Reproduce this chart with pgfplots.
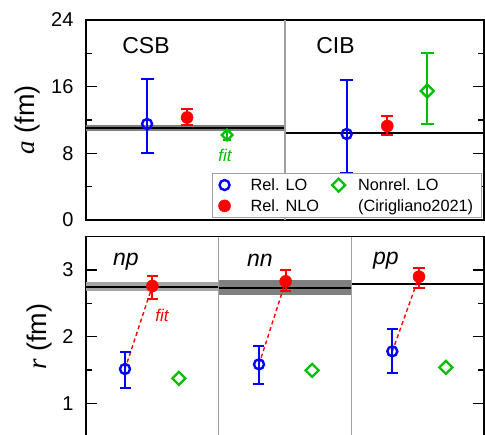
\documentclass[border=0pt]{standalone}
\usepackage{fontspec}
\setmainfont{Liberation Sans}
\newfontfamily\seriffont{Liberation Serif}
\usepackage{pgfplots}
\pgfplotsset{compat=1.18}
\definecolor{cblue}{RGB}{0,0,255}
\definecolor{cred}{RGB}{255,0,0}
\definecolor{cgreen}{RGB}{0,190,0}
\definecolor{divgray}{RGB}{160,160,160}
\definecolor{banddark}{RGB}{128,128,128}
\definecolor{bandlight}{RGB}{165,165,165}
\begin{document}
\begin{tikzpicture}
\path[use as bounding box] (0pt,0pt) rectangle (485pt,435pt);
\pgfplotsset{
  panel/.style={
    scale only axis, width=398pt, height=200pt,
    axis line style={line width=1.6pt},
    every tick/.style={line width=1.4pt, black},
    major tick length=11pt, minor tick length=6pt,
    tick align=inside,
    ytick pos=both,
    xtick=\empty,
    /pgf/number format/assume math mode=true,
    yticklabel style={font=\fontsize{20}{24}\selectfont, xshift=-9pt},
    clip=false,
  },
  eb/.style={error bars/.cd, y dir=both, y explicit,
    error bar style={line width=1.7pt},
    error mark options={rotate=90, mark size=#1, line width=1.7pt}},
  blueo/.style={cblue, only marks, mark=o, mark size=5pt, line width=2.4pt,
    mark options={fill=white, line width=2.4pt}},
  redf/.style={cred, only marks, mark=*, mark size=6pt, line width=0.5pt},
  greend/.style={cgreen, only marks, mark=square, mark size=4.6pt, line width=2.3pt,
    mark options={rotate=45, fill=white, line width=2.3pt}},
}
% ---------------- top panel ----------------
\begin{axis}[panel, at={(86pt,215pt)}, anchor=south west,
  xmin=0, xmax=2, ymin=0, ymax=24,
  ytick={0,8,16,24}, minor ytick={4,12,20},
  ylabel={{\seriffont\itshape a} (fm)},
  ylabel style={font=\fontsize{27}{32}\selectfont, at={(rel axis cs:-0.148,0.5)}, anchor=center},
  legend columns=2,
  legend style={at={(rel axis cs:0.317,0.235)}, anchor=north west,
    draw=divgray, line width=0.8pt, font=\fontsize{16.3}{19}\selectfont,
    inner xsep=6pt, inner ysep=3pt, row sep=3.5pt,
    /tikz/column 1/.style={column sep=18pt},
    /tikz/column 2/.style={column sep=9pt},
    /tikz/column 3/.style={column sep=11pt}},
  legend cell align=left,
]
\addlegendimage{blueo}
\addlegendimage{greend}
\addlegendimage{redf}
\addlegendimage{empty legend}
% bands and reference lines
\addplot[fill=banddark, draw=none, forget plot] coordinates {(0,10.72) (1,10.72) (1,11.36) (0,11.36)} -- cycle;
\addplot[black, line width=2pt, forget plot] coordinates {(0,11.04) (1,11.04)};
\addplot[black, line width=2pt, forget plot] coordinates {(1,10.4) (2,10.4)};
\addplot[divgray, line width=1.4pt, forget plot] coordinates {(1,0) (1,24)};
% CSB
\addplot[blueo, forget plot, eb=6.5pt]
  coordinates {(0.307,11.52) += (0,5.38) -= (0,3.44)};
\addplot[redf, forget plot, eb=6pt]
  coordinates {(0.508,12.3) += (0,1.0) -= (0,0.9)};
\addplot[greend, forget plot, mark size=3.8pt, eb=4pt]
  coordinates {(0.709,10.2) += (0,0.6) -= (0,0.6)};
% CIB
\addplot[blueo, forget plot, eb=6.5pt]
  coordinates {(1.31,10.32) += (0,6.48) -= (0,4.64)};
\addplot[redf, forget plot, eb=6pt]
  coordinates {(1.514,11.28) += (0,1.2) -= (0,1.12)};
\addplot[greend, forget plot, eb=6.5pt]
  coordinates {(1.715,15.48) += (0,4.52) -= (0,4.0)};
\node[anchor=base, font=\fontsize{23}{27}\selectfont] at (axis cs:0.3015,19.92) {CSB};
\node[anchor=base, font=\fontsize{23}{27}\selectfont] at (axis cs:1.254,19.92) {CIB};
\node[anchor=base, text=cgreen, font=\fontsize{17}{20}\selectfont\itshape] at (axis cs:0.699,7.0) {fit};
\legend{Rel. LO, Nonrel. LO, Rel. NLO, (Cirigliano2021)}
\end{axis}
% ---------------- bottom panel ----------------
\begin{axis}[panel, at={(86pt,-1.67pt)}, anchor=south west,
  xmin=0, xmax=3, ymin=0.5, ymax=3.5,
  ytick={1,2,3}, minor ytick={1.5,2.5},
  ylabel={{\seriffont\itshape r} (fm)},
  ylabel style={font=\fontsize{27}{32}\selectfont, at={(rel axis cs:-0.117,0.5)}, anchor=center},
]
\addplot[fill=bandlight, draw=none] coordinates {(0,2.683) (1,2.683) (1,2.817) (0,2.817)} -- cycle;
\addplot[fill=banddark, draw=none] coordinates {(1,2.625) (2,2.625) (2,2.845) (1,2.845)} -- cycle;
\addplot[black, line width=2pt] coordinates {(0,2.75) (1,2.75)};
\addplot[black, line width=2pt] coordinates {(1,2.735) (2,2.735)};
\addplot[black, line width=2pt] coordinates {(2,2.785) (3,2.785)};
\addplot[divgray, line width=1.4pt] coordinates {(1,0.5) (1,3.5)};
\addplot[divgray, line width=1.4pt] coordinates {(2,0.5) (2,3.5)};
% dashed fit lines
\addplot[cred, line width=1.4pt, dash pattern=on 4pt off 3pt] coordinates {(0.294,1.515) (0.5,2.76)};
\addplot[cred, line width=1.4pt, dash pattern=on 4pt off 3pt] coordinates {(1.304,1.585) (1.505,2.83)};
\addplot[cred, line width=1.4pt, dash pattern=on 4pt off 3pt] coordinates {(2.309,1.78) (2.51,2.90)};
% Rel. LO
\addplot[blueo, eb=5.5pt]
  coordinates {(0.294,1.515) += (0,0.255) -= (0,0.29)
               (1.304,1.585) += (0,0.27) -= (0,0.30)
               (2.309,1.78) += (0,0.335) -= (0,0.325)};
% Rel. NLO
\addplot[redf, eb=5.8pt]
  coordinates {(0.5,2.76) += (0,0.15) -= (0,0.19)
               (1.505,2.83) += (0,0.17) -= (0,0.145)
               (2.51,2.90) += (0,0.135) -= (0,0.165)};
% Nonrel. LO
\addplot[greend] coordinates {(0.70,1.375) (1.705,1.495) (2.713,1.54)};
\node[anchor=base, font=\fontsize{23}{27}\selectfont\itshape] at (axis cs:0.30,3.06) {np};
\node[anchor=base, font=\fontsize{23}{27}\selectfont\itshape] at (axis cs:1.31,3.05) {nn};
\node[anchor=base, font=\fontsize{23}{27}\selectfont\itshape] at (axis cs:2.26,3.075) {pp};
\node[anchor=base, text=cred, font=\fontsize{17}{20}\selectfont\itshape] at (axis cs:0.573,2.225) {fit};
\end{axis}
\end{tikzpicture}
\end{document}
